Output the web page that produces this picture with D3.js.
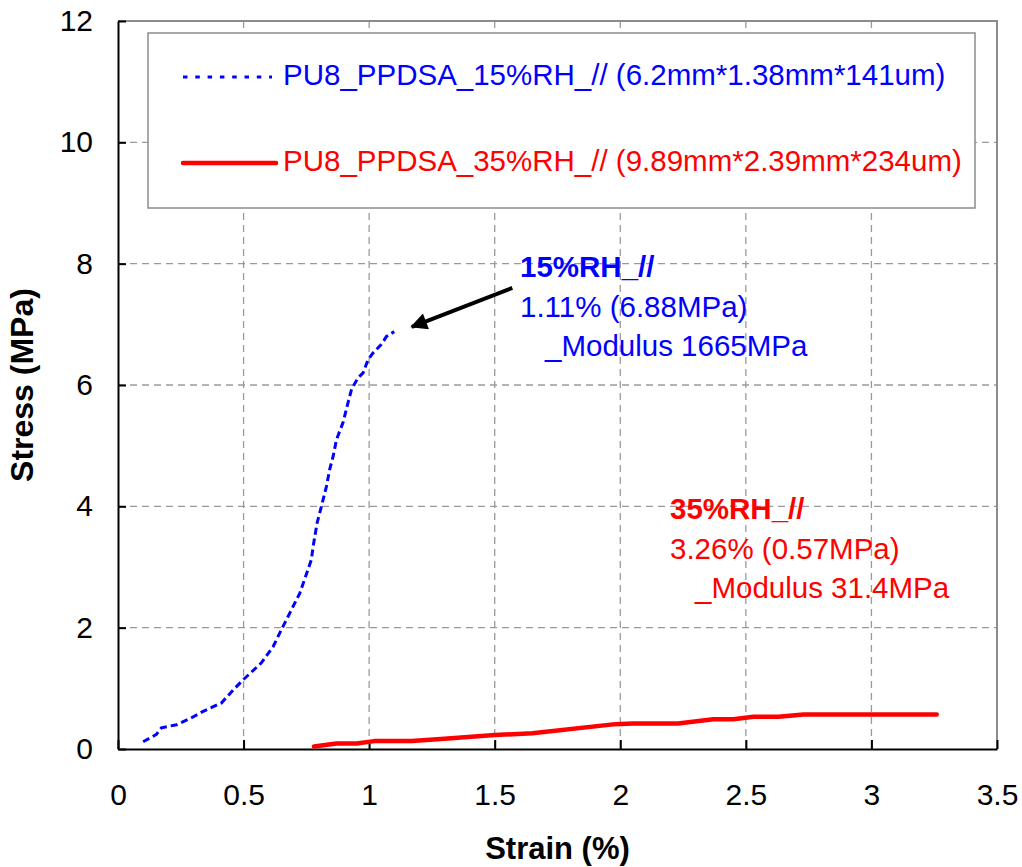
<!DOCTYPE html>
<html>
<head>
<meta charset="utf-8">
<script src="https://cdn.jsdelivr.net/npm/d3@7"></script>
<style>
  body { margin: 0; background: #fff; }
  svg text { font-family: "Liberation Sans", Arial, sans-serif; }
</style>
</head>
<body>
<div id="chart"></div>
<script>
// data
var strain15 = [0.10, 0.153, 0.173, 0.233, 0.286, 0.339, 0.412, 0.458, 0.498, 0.571, 0.618, 0.651, 0.684, 0.724, 0.75, 0.77,
                0.777, 0.793, 0.81, 0.83, 0.843, 0.857, 0.87, 0.896, 0.916, 0.93, 0.956, 0.976, 0.996, 1.016, 1.049, 1.069, 1.10];
var stress15 = [0.12, 0.24, 0.35, 0.40, 0.50, 0.62, 0.76, 0.97, 1.14, 1.42, 1.69, 1.97, 2.24, 2.57, 2.88, 3.12,
                3.34, 3.73, 4.0, 4.33, 4.61, 4.83, 5.10, 5.38, 5.71, 5.93, 6.12, 6.20, 6.42, 6.53, 6.67, 6.80, 6.88];
var strain35 = [0.78, 0.87, 0.95, 1.02, 1.17, 1.30, 1.50, 1.65, 1.98, 2.05, 2.23, 2.37, 2.45, 2.53, 2.63, 2.73, 3.0, 3.26];
var stress35 = [0.04, 0.09, 0.09, 0.13, 0.13, 0.17, 0.23, 0.26, 0.41, 0.42, 0.42, 0.49, 0.49, 0.53, 0.53, 0.57, 0.57, 0.57];

var xTicks = [0, 0.5, 1, 1.5, 2, 2.5, 3, 3.5];
var yTicks = [0, 2, 4, 6, 8, 10, 12];

var seriesNames = ["PU8_PPDSA_15%RH_// (6.2mm*1.38mm*141um)", "PU8_PPDSA_35%RH_// (9.89mm*2.39mm*234um)"];
var note15 = ["15%RH_//", "1.11% (6.88MPa)", "_Modulus 1665MPa"];
var note35 = ["35%RH_//", "3.26% (0.57MPa)", "_Modulus 31.4MPa"];
var arrowFrom = [1.57, 7.6], arrowTo = [1.17, 6.96];

var blue = "#0000ff", red = "#ff0000", gridGrey = "#9a9a9a";

var margin = {top: 21, right: 25, bottom: 118, left: 118};
var width = 1022, height = 867;
var chartWidth = width - margin.left - margin.right;
var chartHeight = height - margin.top - margin.bottom;

var svg = d3.select('#chart').append('svg')
    .attr('width', width)
    .attr('height', height)
  .append('g')
    .attr('transform', `translate(${margin.left},${margin.top})`);

var xScale = d3.scaleLinear().domain([0, 3.5]).range([0, chartWidth]);
var yScale = d3.scaleLinear().domain([0, 12]).range([chartHeight, 0]);

// dashed grid
svg.append('g').selectAll('line')
    .data(xTicks.slice(1, -1))
    .enter().append('line')
    .attr('x1', d => xScale(d)).attr('x2', d => xScale(d))
    .attr('y1', 0).attr('y2', chartHeight)
    .attr('stroke', gridGrey).attr('stroke-width', 1.3)
    .attr('stroke-dasharray', '7,5');

svg.append('g').selectAll('line')
    .data(yTicks.slice(1, -1))
    .enter().append('line')
    .attr('x1', 0).attr('x2', chartWidth)
    .attr('y1', d => yScale(d)).attr('y2', d => yScale(d))
    .attr('stroke', gridGrey).attr('stroke-width', 1.3)
    .attr('stroke-dasharray', '7,5');

// grey frame top & right
svg.append('path')
    .attr('d', `M0,${yScale(12)}H${xScale(3.5)}V${yScale(0)}`)
    .attr('fill', 'none')
    .attr('stroke', '#8c8c8c')
    .attr('stroke-width', 2);

var xAxis = d3.axisBottom(xScale).tickValues(xTicks).tickFormat(d3.format('')).tickSize(-9).tickSizeOuter(0).tickPadding(35);
var yAxis = d3.axisLeft(yScale).tickValues(yTicks).tickSize(-8).tickSizeOuter(0).tickPadding(25);

svg.append('g')
    .attr('class', 'x axis')
    .attr('transform', `translate(0,${chartHeight})`)
    .call(xAxis);

svg.append('g')
    .attr('class', 'y axis')
    .call(yAxis);

svg.selectAll('.axis path, .axis line').attr('stroke', '#000').attr('stroke-width', 2);
svg.selectAll('.axis text').attr('font-size', 30).attr('fill', '#000')
    .style('font-family', '"Liberation Sans", Arial, sans-serif');

// axis titles
svg.append('text')
    .attr('x', chartWidth / 2).attr('y', chartHeight + 110)
    .attr('text-anchor', 'middle')
    .attr('font-size', 31).attr('font-weight', 'bold')
    .text('Strain (%)');

svg.append('text')
    .attr('transform', `translate(${-85},${chartHeight / 2}) rotate(-90)`)
    .attr('text-anchor', 'middle')
    .attr('font-size', 32).attr('font-weight', 'bold')
    .text('Stress (MPa)');

// curves
var line = d3.line().x(d => xScale(d[0])).y(d => yScale(d[1]));

svg.append('path')
    .datum(d3.zip(strain35, stress35))
    .attr('d', line)
    .attr('fill', 'none')
    .attr('stroke', red)
    .attr('stroke-width', 4.5)
    .attr('stroke-linecap', 'round')
    .attr('stroke-linejoin', 'round');

svg.append('path')
    .datum(d3.zip(strain15, stress15))
    .attr('d', line)
    .attr('fill', 'none')
    .attr('stroke', blue)
    .attr('stroke-width', 3)
    .attr('stroke-dasharray', '7,4');

// legend
var legend = svg.append('g').attr('transform', `translate(${148 - margin.left},${33 - margin.top})`);
legend.append('rect')
    .attr('width', 827).attr('height', 175)
    .attr('fill', '#fff')
    .attr('stroke', '#8c8c8c').attr('stroke-width', 1.5);

var legendRows = [
  {name: seriesNames[0], color: blue, dash: '4.5,7.8', w: 3.2, y: 44, x2: 124},
  {name: seriesNames[1], color: red, dash: null, w: 4.5, y: 130, x2: 128}
];
legendRows.forEach(function(r) {
  legend.append('line')
      .attr('x1', 35).attr('x2', r.x2)
      .attr('y1', r.y).attr('y2', r.y)
      .attr('stroke', r.color)
      .attr('stroke-width', r.w)
      .attr('stroke-linecap', r.dash ? 'butt' : 'round')
      .attr('stroke-dasharray', r.dash);
  legend.append('text')
      .attr('x', 135).attr('y', r.y + 8)
      .attr('font-size', 29.5)
      .attr('fill', r.color)
      .text(r.name);
});

// annotations
function note(lines, color, x, y) {
  var t = svg.append('text').attr('font-size', 29.5).attr('fill', color);
  lines.forEach(function(s, i) {
    t.append('tspan')
        .attr('x', x + (i == 2 ? 25 : 0))
        .attr('y', y + i * 39.5)
        .attr('font-weight', i == 0 ? 'bold' : 'normal')
        .text(s);
  });
}
note(note15, blue, 520 - margin.left, 277 - margin.top);
note(note35, red, 670 - margin.left, 519 - margin.top);

// arrow
svg.append('defs').append('marker')
    .attr('id', 'head')
    .attr('viewBox', '0 0 10 10')
    .attr('refX', 9).attr('refY', 5)
    .attr('markerWidth', 5).attr('markerHeight', 4.2)
    .attr('markerUnits', 'strokeWidth')
    .attr('orient', 'auto')
  .append('path')
    .attr('d', 'M0,0L10,5L0,10Z')
    .attr('fill', '#000');

svg.append('line')
    .attr('x1', xScale(arrowFrom[0])).attr('y1', yScale(arrowFrom[1]))
    .attr('x2', xScale(arrowTo[0])).attr('y2', yScale(arrowTo[1]))
    .attr('stroke', '#000')
    .attr('stroke-width', 4)
    .attr('marker-end', 'url(#head)');
</script>
</body>
</html>
